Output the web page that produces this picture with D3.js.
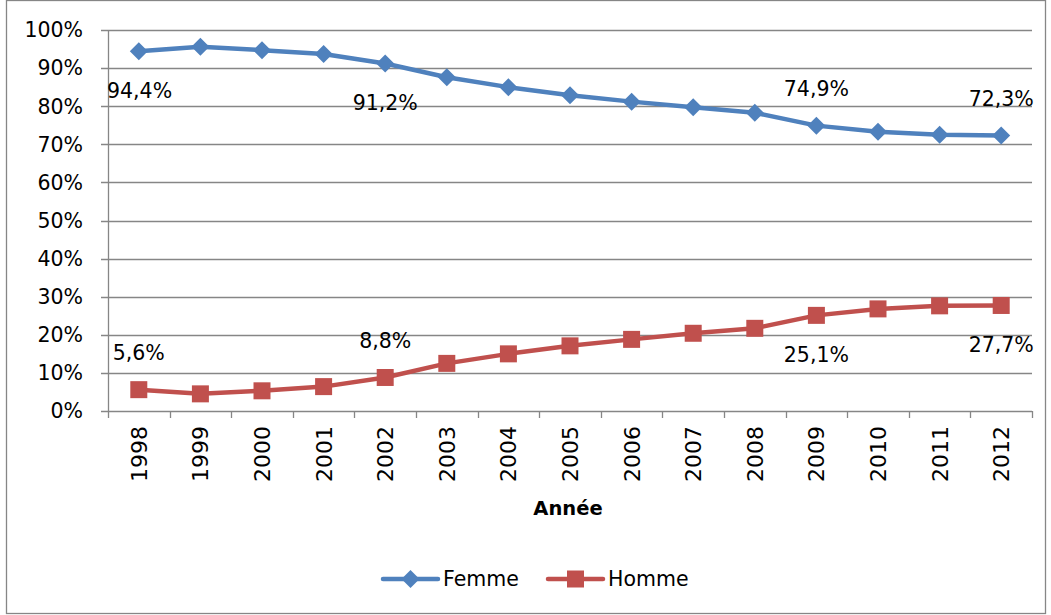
<!DOCTYPE html>
<meta charset="utf-8">
<style>
body { margin: 0; background: #fff; }
svg text { font-family: "DejaVu Sans", sans-serif; fill: #000; }
</style>
<body>
<svg width="1051" height="615"></svg>
</body>
<script src="https://d3js.org/d3.v7.min.js"></script>
<script>

// chart data
var years = ["1998", "1999", "2000", "2001", "2002", "2003", "2004", "2005",
             "2006", "2007", "2008", "2009", "2010", "2011", "2012"];
var femme = [94.4, 95.6, 94.7, 93.7, 91.2, 87.6, 85.0, 82.9, 81.2, 79.7, 78.3, 74.9, 73.3, 72.5, 72.3];
var homme = [5.6, 4.5, 5.3, 6.4, 8.8, 12.5, 15.0, 17.1, 18.8, 20.4, 21.7, 25.1, 26.8, 27.6, 27.7];
var yTicks = [0, 10, 20, 30, 40, 50, 60, 70, 80, 90, 100];

// which points carry a value label, and where (above / below)
var femmeLabels = [
  { i: 0, pos: "below", anchor: "start" },
  { i: 4, pos: "below", anchor: "middle" },
  { i: 11, pos: "above", anchor: "middle" },
  { i: 14, pos: "above", anchor: "middle" }
];
var hommeLabels = [
  { i: 0, pos: "above", anchor: "middle" },
  { i: 4, pos: "above", anchor: "middle" },
  { i: 11, pos: "below", anchor: "middle" },
  { i: 14, pos: "below", anchor: "middle" }
];

var blue = "#4f81bd", red = "#c0504d", grid = "#868686";

var svg = d3.select("svg");

// outer frame
svg.append("rect")
    .attr("x", 6.5).attr("y", 0.5)
    .attr("width", 1039).attr("height", 613)
    .attr("fill", "none").attr("stroke", grid).attr("stroke-width", 1.3);

var plotLeft = 108, plotRight = 1032, plotTop = 30, plotBottom = 411;

var x = d3.scaleBand().domain(years).range([plotLeft, plotRight]);
var y = d3.scaleLinear().domain([0, 100]).range([plotBottom, plotTop]);

// gridlines
svg.append("g")
  .selectAll("line")
  .data(yTicks)
  .enter().append("line")
    .attr("x1", plotLeft - 7).attr("x2", plotRight)
    .attr("y1", d => Math.round(y(d)) + 0.5)
    .attr("y2", d => Math.round(y(d)) + 0.5)
    .attr("stroke", grid).attr("stroke-width", 1.3);

// y axis line
svg.append("line")
    .attr("x1", plotLeft + 0.5).attr("x2", plotLeft + 0.5)
    .attr("y1", plotTop).attr("y2", plotBottom)
    .attr("stroke", grid).attr("stroke-width", 1.3);

// y labels
svg.append("g")
  .selectAll("text")
  .data(yTicks)
  .enter().append("text")
    .attr("x", 83)
    .attr("y", d => y(d))
    .attr("dy", "0.36em")
    .attr("text-anchor", "end")
    .attr("font-size", 20.5)
    .text(d => d + "%");

// x ticks between categories
var tickXs = years.map(d => x(d)).concat([plotRight]);
svg.append("g")
  .selectAll("line")
  .data(tickXs)
  .enter().append("line")
    .attr("x1", d => Math.round(d) + 0.5).attr("x2", d => Math.round(d) + 0.5)
    .attr("y1", plotBottom).attr("y2", plotBottom + 7)
    .attr("stroke", grid).attr("stroke-width", 1.3);

// x labels, rotated
svg.append("g")
  .selectAll("text")
  .data(years)
  .enter().append("text")
    .attr("transform", d => `translate(${x(d) + x.bandwidth() / 2},${426}) rotate(-90)`)
    .attr("dy", "0.36em")
    .attr("text-anchor", "end")
    .attr("font-size", 22)
    .text(d => d);

// axis title
svg.append("text")
    .attr("x", (plotLeft + plotRight) / 2 - 2)
    .attr("y", 508)
    .attr("dy", "0.36em")
    .attr("text-anchor", "middle")
    .attr("font-size", 19.5)
    .attr("font-weight", "bold")
    .text("Année");

var cx = i => x(years[i]) + x.bandwidth() / 2;

var line = d3.line()
    .x((d, i) => cx(i))
    .y(d => y(d));

function drawSeries(values, color, shape) {
  svg.append("path")
      .datum(values)
      .attr("d", line)
      .attr("fill", "none")
      .attr("stroke", color)
      .attr("stroke-width", 4.5)
      .attr("stroke-linejoin", "round");
  svg.append("g")
    .selectAll("path")
    .data(values)
    .enter().append("path")
      .attr("transform", (d, i) => `translate(${cx(i)},${y(d)})`)
      .attr("d", shape)
      .attr("fill", color);
}

var diamond = "M0,-9L9,0L0,9L-9,0Z";
var square = "M-8.5,-8.5H8.5V8.5H-8.5Z";

drawSeries(femme, blue, diamond);
drawSeries(homme, red, square);

function drawLabels(values, labels) {
  svg.append("g")
    .selectAll("text")
    .data(labels)
    .enter().append("text")
      .attr("x", d => d.anchor == "start" ? plotLeft - 1 : cx(d.i))
      .attr("y", d => y(values[d.i]) + (d.pos == "above" ? -37 : 39))
      .attr("dy", "0.36em")
      .attr("text-anchor", d => d.anchor)
      .attr("font-size", 20.5)
      .text(d => String(values[d.i]).replace(".", ",") + "%");
}
drawLabels(femme, femmeLabels);
drawLabels(homme, hommeLabels);

// legend
var legend = [
  { name: "Femme", color: blue, shape: diamond, x: 383 },
  { name: "Homme", color: red, shape: square, x: 548 }
];
var lg = svg.append("g")
  .selectAll("g")
  .data(legend)
  .enter().append("g")
    .attr("transform", d => `translate(${d.x},579)`);
lg.append("line")
    .attr("x1", 0).attr("x2", 55)
    .attr("stroke", d => d.color)
    .attr("stroke-width", 4.5)
    .attr("stroke-linecap", "round");
lg.append("path")
    .attr("transform", "translate(27.5,0)")
    .attr("d", d => d.shape)
    .attr("fill", d => d.color);
lg.append("text")
    .attr("x", 60)
    .attr("dy", "0.36em")
    .attr("font-size", 20.5)
    .text(d => d.name);

</script>
